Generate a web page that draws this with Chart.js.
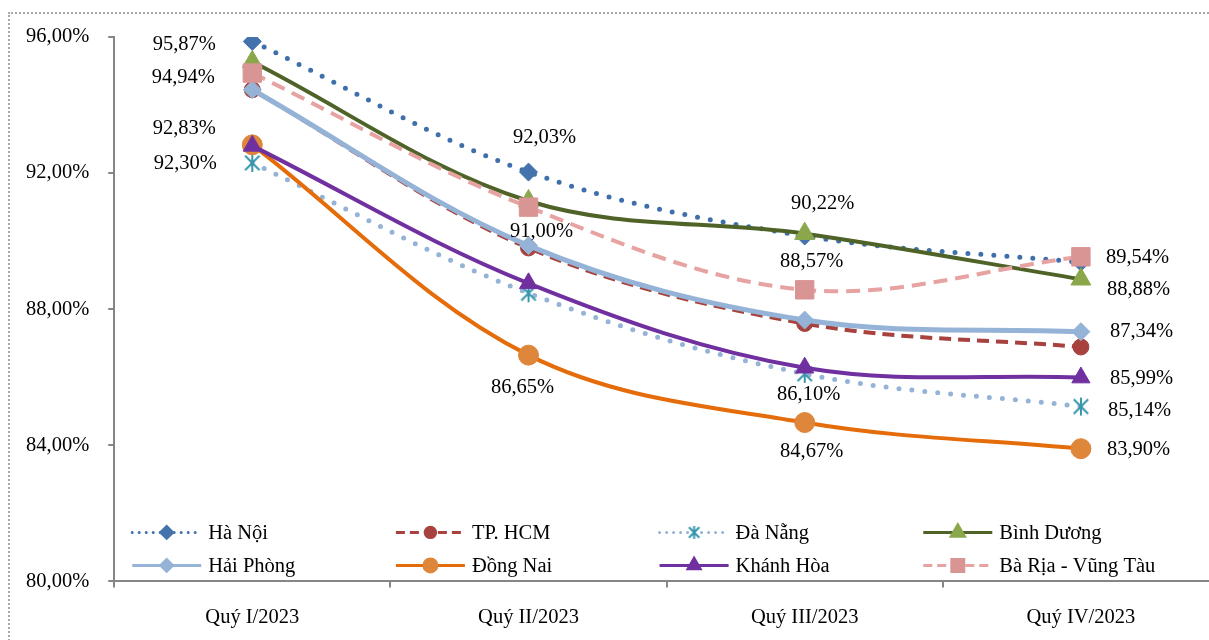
<!DOCTYPE html>
<html>
<head>
<meta charset="utf-8">
<script src="https://cdn.jsdelivr.net/npm/chart.js@4"></script>
<style>
  html, body { margin: 0; padding: 0; background: #fff; overflow: hidden; }
  #wrap { position: relative; width: 1209px; height: 640px; overflow: hidden; }
  #frame { position: absolute; left: 8px; top: 12px; width: 1300px; height: 700px;
           border: 2px dotted #a8a8a8; box-sizing: border-box; pointer-events: none; }
  canvas { position: absolute; left: 0; top: 0; }
</style>
</head>
<body>
<div id="wrap">
  <canvas id="c" width="1240" height="658"></canvas>
  <div id="frame"></div>
</div>
<script>
const quarters = ['Quý I/2023', 'Quý II/2023', 'Quý III/2023', 'Quý IV/2023']
const yTicks = [80, 84, 88, 92, 96]

const haNoi = [95.87, 92.03, 90.15, 89.38]
const tpHcm = [94.45, 89.80, 87.58, 86.89]
const daNang = [92.30, 88.47, 86.10, 85.14]
const binhDuong = [95.27, 91.18, 90.22, 88.88]
const haiPhong = [94.45, 89.87, 87.68, 87.34]
const dongNai = [92.83, 86.65, 84.67, 83.90]
const khanhHoa = [92.80, 88.76, 86.28, 85.99]
const baRia = [94.94, 91.00, 88.57, 89.54]

const fmt = v => v.toFixed(2).replace('.', ',') + '%'
const FONT = '"Liberation Serif", "Times New Roman", serif'
const FS = 20.5

// which points carry a value label: index -> [dx, dy, align]
const labelSpots = {
  'Hà Nội': { 0: [-68, 3, 'center'], 1: [16, -34, 'center'] },
  'Đà Nẵng': { 0: [-67, 1, 'center'], 2: [4, 21, 'center'], 3: [27, 4, 'left'] },
  'Bình Dương': { 2: [18, -30, 'center'], 3: [26, 10, 'left'] },
  'Hải Phòng': { 3: [29, 0, 'left'] },
  'Đồng Nai': { 0: [-68, -16, 'center'], 1: [-6, 32, 'center'], 2: [7, 29, 'center'], 3: [26, 1, 'left'] },
  'Khánh Hòa': { 3: [29, 1, 'left'] },
  'Bà Rịa - Vũng Tàu': { 0: [-69, 5, 'center'], 1: [13, 24, 'center'], 2: [7, -28, 'center'], 3: [25, 1, 'left'] }
}

// six-arm asterisk marker, like the office chart star
function makeStar(r, color, lw) {
  const c = document.createElement('canvas')
  const s = Math.ceil(r * 2 + lw * 2)
  c.width = s
  c.height = s
  const g = c.getContext('2d')
  const m = s / 2
  const d = r * 0.8
  g.strokeStyle = color
  g.lineWidth = lw
  g.beginPath()
  g.moveTo(m, m - r); g.lineTo(m, m + r)
  g.moveTo(m - d, m - d); g.lineTo(m + d, m + d)
  g.moveTo(m + d, m - d); g.lineTo(m - d, m + d)
  g.stroke()
  return c
}

const starBig = makeStar(9, '#3596ac', 2)
const starSmall = makeStar(6.5, '#3596ac', 2)

const series = [
  { label: 'Hà Nội', data: haNoi, line: '#3f6faa', mark: '#4472ac', style: 'rectRot', r: 9, width: 5, dash: [0, 13], cap: 'round', legDash: [0, 7], legW: 3 },
  { label: 'TP. HCM', data: tpHcm, line: '#a8423f', mark: '#a8423f', style: 'circle', r: 8, width: 4, dash: [12, 7], cap: 'butt', legDash: [9, 5], legW: 3 },
  { label: 'Đà Nẵng', data: daNang, line: '#95b3d7', mark: '#3596ac', style: starBig, legStyle: starSmall, r: 9, width: 5, dash: [0, 13], cap: 'round', legDash: [0, 7], legW: 3 },
  { label: 'Bình Dương', data: binhDuong, line: '#4f6228', mark: '#8aa84b', style: 'triangle', r: 11.5, width: 4, dash: [], cap: 'butt', legDash: [], legW: 3 },
  { label: 'Hải Phòng', data: haiPhong, line: '#95b3d7', mark: '#95b3d7', style: 'rectRot', r: 9, width: 5, dash: [], cap: 'butt', legDash: [], legW: 3 },
  { label: 'Đồng Nai', data: dongNai, line: '#e46c0a', mark: '#de8639', style: 'circle', r: 10, width: 4, dash: [], cap: 'butt', legDash: [], legW: 3 },
  { label: 'Khánh Hòa', data: khanhHoa, line: '#7030a0', mark: '#7030a0', style: 'triangle', r: 10.5, width: 4, dash: [], cap: 'butt', legDash: [], legW: 3 },
  { label: 'Bà Rịa - Vũng Tàu', data: baRia, line: '#e6a3a2', mark: '#d99594', style: 'rect', r: 13, width: 4, dash: [14, 8], cap: 'butt', legDash: [9, 5], legW: 3 }
]

const datasets = series.map((s, i) => ({
  label: s.label,
  data: s.data,
  borderColor: s.line,
  borderWidth: s.width,
  borderDash: s.dash,
  borderCapStyle: s.cap,
  tension: 0.35,
  pointStyle: s.style,
  pointRadius: s.r,
  pointBackgroundColor: s.mark,
  pointBorderColor: s.mark,
  pointBorderWidth: 1,
  order: -i,
  fill: false
}))

const valueLabels = {
  id: 'valueLabels',
  afterDatasetsDraw(chart) {
    const ctx = chart.ctx
    ctx.save()
    ctx.font = FS + 'px ' + FONT
    ctx.fillStyle = '#000'
    ctx.textBaseline = 'middle'
    chart.data.datasets.forEach((ds, di) => {
      const spots = labelSpots[ds.label]
      if (!spots) return
      const meta = chart.getDatasetMeta(di)
      Object.keys(spots).forEach(k => {
        const [dx, dy, align] = spots[k]
        const pt = meta.data[k]
        ctx.textAlign = align
        ctx.fillText(fmt(ds.data[k]), pt.x + dx, pt.y + dy)
      })
    })
    ctx.restore()
  }
}

const lineLegend = {
  id: 'lineLegend',
  afterDraw(chart) {
    const ctx = chart.ctx
    const area = chart.chartArea
    ctx.save()
    ctx.font = FS + 'px ' + FONT
    ctx.textBaseline = 'middle'
    ctx.textAlign = 'left'
    series.forEach((s, i) => {
      const col = i % 4
      const row = Math.floor(i / 4)
      const x = area.left + 18 + col * 263.7
      const y = area.bottom - 49 + row * 33
      ctx.strokeStyle = s.line
      ctx.lineWidth = s.legW
      ctx.lineCap = s.cap
      ctx.setLineDash(s.legDash)
      ctx.beginPath()
      ctx.moveTo(x, y)
      ctx.lineTo(x + 69, y)
      ctx.stroke()
      ctx.setLineDash([])
      ctx.fillStyle = s.mark
      ctx.strokeStyle = s.mark
      Chart.helpers.drawPoint(ctx, {
        pointStyle: s.legStyle || s.style,
        radius: s.r * 0.65,
        rotation: 0,
        borderWidth: 1
      }, x + 34.5, y)
      ctx.fillStyle = '#000'
      ctx.fillText(s.label, x + 76, y + 1)
    })
    ctx.restore()
  }
}

new Chart(document.getElementById('c'), {
  type: 'line',
  data: { labels: quarters, datasets },
  options: {
    responsive: false,
    animation: false,
    layout: { padding: { left: 7, right: 21, top: 37, bottom: 10 } },
    plugins: { legend: { display: false }, tooltip: { enabled: false } },
    scales: {
      x: {
        offset: true,
        grid: { offset: true, drawOnChartArea: false, drawTicks: true, tickLength: 6, color: '#868686', lineWidth: 2 },
        border: { display: true, color: '#868686', width: 2 },
        ticks: { color: '#000', padding: 18, font: { family: FONT, size: FS } }
      },
      y: {
        min: 80,
        max: 96,
        afterBuildTicks: axis => { axis.ticks = yTicks.map(v => ({ value: v })) },
        grid: { drawOnChartArea: false, drawTicks: true, tickLength: 6, color: '#868686', lineWidth: 2 },
        border: { display: true, color: '#868686', width: 2 },
        ticks: { color: '#000', padding: 19, font: { family: FONT, size: FS }, callback: v => fmt(v) }
      }
    }
  },
  plugins: [valueLabels, lineLegend]
})
</script>
</body>
</html>
